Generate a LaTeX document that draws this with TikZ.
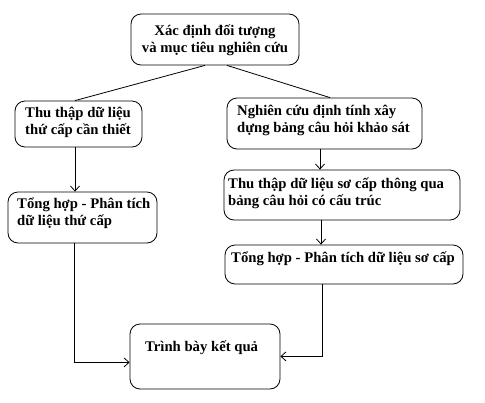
\documentclass[tikz,border=0pt]{standalone}
\usepackage{fontspec}
\setmainfont{Liberation Serif}
\usetikzlibrary{arrows.meta,calc}
\begin{document}
\begin{tikzpicture}[x=1pt,y=-1pt,
  box/.style={draw=black,line width=0.8pt,rounded corners=10pt,inner sep=0pt},
  txt/.style={inner sep=0pt,font=\fontsize{14.7pt}{17pt}\selectfont\bfseries},
  conn/.style={draw=black,line width=0.8pt},
  arr/.style={conn,-{Straight Barb[length=5pt,width=9pt,line width=0.8pt]}}]
\useasboundingbox (0,0) rectangle (485,402);
\fill[white] (0,0) rectangle (485,402);
% boxes
\node[box,minimum width=168pt,minimum height=51pt] (top) at (215,39.5) {};
\node[box,minimum width=127pt,minimum height=46pt] (l1) at (78.5,124) {};
\node[box,minimum width=195pt,minimum height=51pt] (r1) at (324.5,123.5) {};
\node[box,minimum width=149pt,minimum height=51pt] (l2) at (82.5,217.5) {};
\node[box,minimum width=236pt,minimum height=50pt] (r2) at (342,195) {};
\node[box,minimum width=238pt,minimum height=39pt] (r3) at (344,264.5) {};
\node[box,minimum width=150pt,minimum height=65pt] (bot) at (205,356.5) {};
% texts
\node[txt,align=center] (ttop) at (215,40) {Xác định đối tượng\\và mục tiêu nghiên cứu};
\node[txt,align=left,anchor=west] (tl1) at (25,122.5) {Thu thập dữ liệu\\thứ cấp cần thiết};
\node[txt,align=left,anchor=west] (tr1) at (237,120) {Nghiên cứu định tính xây\\dựng bảng câu hỏi khảo sát};
\node[txt,align=left,anchor=west] (tl2) at (17,213.5) {Tổng hợp - Phân tích\\dữ liệu thứ cấp};
\node[txt,align=left,anchor=west] (tr2) at (228,193.5) {Thu thập dữ liệu sơ cấp thông qua\\bảng câu hỏi có cấu trúc};
\node[txt,align=left,anchor=west] (tr3) at (231,259) {Tổng hợp - Phân tích dữ liệu sơ cấp};
\node[txt,align=left,anchor=west] (tbot) at (145,348) {Trình bày kết quả};
% connectors
\draw[conn] ([xshift=-10pt]top.south) -- ([xshift=-3.5pt]l1.north);
\draw[conn] ([xshift=12pt]top.south) -- ([xshift=5.5pt]r1.north);
\draw[arr] ([xshift=-3.5pt]l1.south) -- ([xshift=-3.5pt]l1.south |- l2.north);
\draw[arr] ([xshift=-4.5pt]r1.south) -- ([xshift=-4.5pt]r1.south |- r2.north);
\draw[arr] ([xshift=-21pt]r2.south) -- ([xshift=-21pt]r2.south |- r3.north);
\coordinate (lc) at ($(l2.south)+(-8.5,119)$);
\draw[arr] ([xshift=-8.5pt]l2.south) -- (lc) -- (lc -| bot.west);
\coordinate (rc) at ($(r3.south)+(-22,72)$);
\draw[arr] ([xshift=-22pt]r3.south) -- (rc) -- (rc -| bot.east);
\end{tikzpicture}
\end{document}
